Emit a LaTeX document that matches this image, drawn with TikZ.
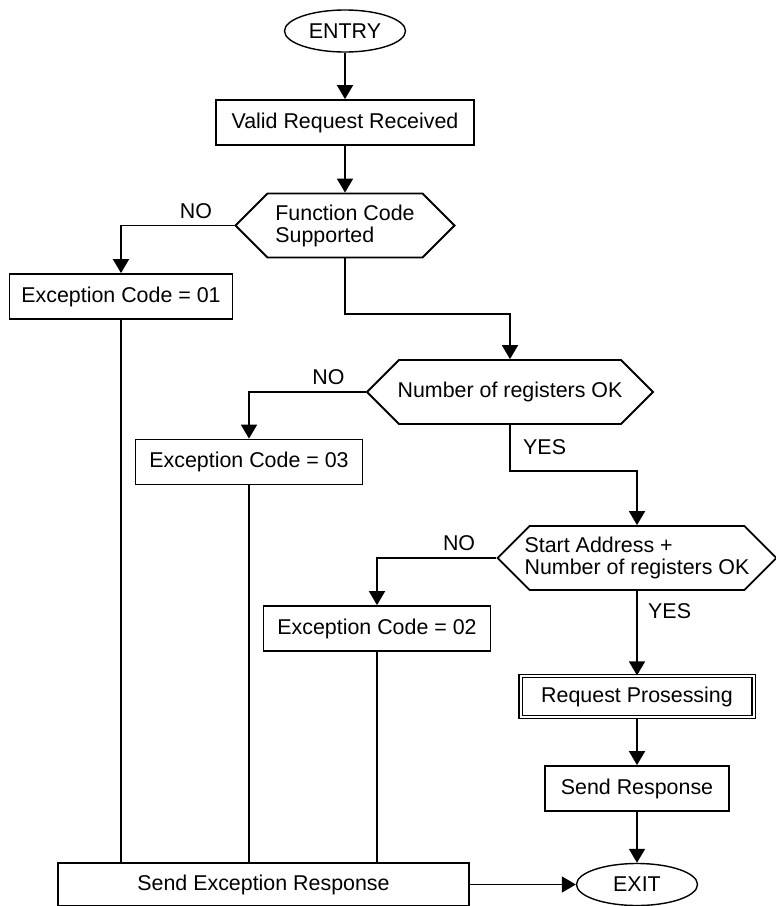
\documentclass[tikz,border=0pt]{standalone}
\usepackage{fontspec}
\setmainfont{Liberation Sans}
\usetikzlibrary{shapes.geometric,shapes.symbols,arrows.meta,positioning}
\tikzset{
    terminal/.style ={
        shape=ellipse,
        draw=black,
        line width=1.4pt,
        minimum width=121pt,
        minimum height=42pt,
        inner sep=0pt
    },
    process/.style ={
        shape=rectangle,
        draw=black,
        line width=1.8pt,
        minimum height=45pt,
        inner sep=0pt
    },
    decision/.style ={
        shape=signal,
        signal to=west and east,
        signal pointer angle=90,
        draw=black,
        line width=1.8pt,
        minimum height=64pt,
        inner xsep=-5pt,
        align=left
    },
    branch/.style ={
        inner sep=0pt
    },
    flow/.style ={
        line width=1.8pt,
        -{Triangle[width=16pt,length=14pt]}
    },
    merge/.style ={
        line width=1.8pt
    }
}

\begin{document}
\begin{tikzpicture}[x=1pt,y=-1pt,font=\fontsize{21.4pt}{22pt}\selectfont]
    \useasboundingbox (0,0) rectangle (776,906);
    \node[terminal] (entry) at(345,31) {ENTRY};
    \node[process, minimum width=258pt] (valid) at(345,122.5) {Valid Request Received};
    \node[decision, minimum width=219pt] (fc) at(345,225.5) {Function Code\\Supported};
    \node[process, minimum width=223pt] (ex01) at(121,296.5) {Exception Code = 01};
    \node[decision, minimum width=286pt] (nr) at(510,392) {Number of registers OK};
    \node[process, minimum width=227pt] (ex03) at(249,462) {Exception Code = 03};
    \node[decision, minimum width=278pt] (sa) at(637,558) {Start Address +\\Number of registers OK};
    \node[process, minimum width=227pt] (ex02) at(377,628.5) {Exception Code = 02};
    \node[process, double, double distance=2pt, line width=1.3pt,
        minimum width=233pt, minimum height=41pt] (rp) at(637,696.5) {Request Prosessing};
    \node[process, minimum width=184pt] (sr) at(637,788.5) {Send Response};
    \node[terminal] (exit) at(637,884.5) {EXIT};
    \node[process, minimum width=411pt, minimum height=43pt] (ser) at(263.5,884.5) {Send Exception Response};
    \coordinate (fcturn) at(345,314);
    \coordinate (nrturn) at(510,471);
    \node[branch, above left=7pt and 22pt of fc.west] (no1) {NO};
    \node[branch, above left=7pt and 21pt of nr.west] (no2) {NO};
    \node[branch, above left=7pt and 21pt of sa.west] (no3) {NO};
    \node[branch, below right=14pt and 13pt of nr.south] (yes1) {YES};
    \node[branch, below right=12pt and 11pt of sa.south] (yes2) {YES};
    \draw[flow] (entry) -- (valid);
    \draw[flow] (valid) -- (fc);
    \draw[flow] (fc.west) -| (ex01.north);
    \draw[flow] (fc.south) -- (fcturn) -| (nr.north);
    \draw[flow] (nr.west) -| (ex03.north);
    \draw[flow] (nr.south) -- (nrturn) -| (sa.north);
    \draw[flow] (sa.west) -| (ex02.north);
    \draw[flow] (sa) -- (rp);
    \draw[flow] (rp) -- (sr);
    \draw[flow] (sr) -- (exit);
    \draw[flow] (ser) -- (exit);
    \draw[merge] (ex01.south) -- (ex01.south |- ser.north);
    \draw[merge] (ex03.south) -- (ex03.south |- ser.north);
    \draw[merge] (ex02.south) -- (ex02.south |- ser.north);
\end{tikzpicture}
\end{document}
